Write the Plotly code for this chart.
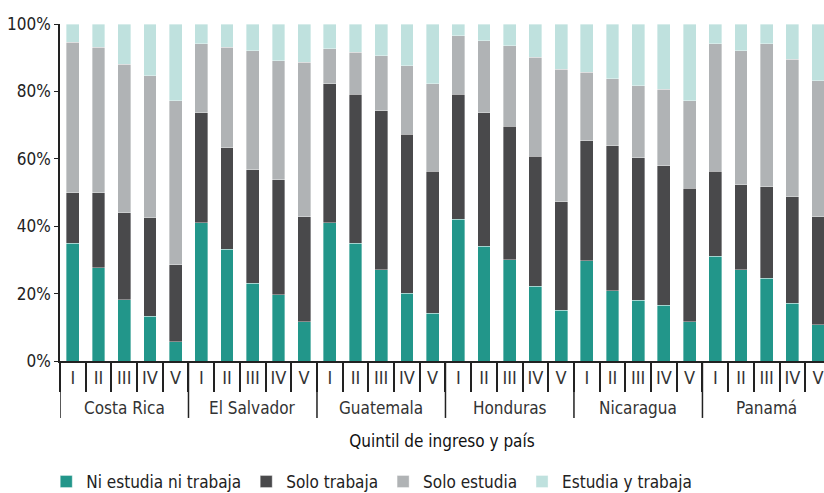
import plotly.graph_objects as go

paises = ["Costa Rica", "El Salvador", "Guatemala", "Honduras", "Nicaragua", "Panamá"]
quintiles = ["I", "II", "III", "IV", "V"]

# porcentaje por quintil (I..V) para cada país
ni_estudia_ni_trabaja = [
    35.0, 27.6, 18.2, 13.3, 5.7,
    41.0, 33.1, 23.0, 19.6, 11.7,
    41.0, 35.0, 27.1, 20.1, 14.1,
    42.0, 34.0, 30.1, 22.2, 15.1,
    29.7, 20.8, 18.1, 16.6, 11.7,
    31.1, 27.1, 24.5, 17.1, 10.7,
]
solo_trabaja = [
    14.9, 22.3, 25.8, 29.2, 22.8,
    32.7, 30.2, 33.8, 34.2, 31.1,
    41.2, 44.2, 47.2, 47.2, 42.2,
    37.2, 39.7, 39.6, 38.6, 32.2,
    35.6, 43.0, 42.2, 41.3, 39.6,
    25.2, 25.2, 27.2, 31.7, 32.1,
]
solo_estudia = [
    44.7, 43.2, 44.1, 42.2, 48.8,
    20.5, 29.8, 35.3, 35.3, 45.8,
    10.5, 12.4, 16.3, 20.3, 25.9,
    17.3, 21.4, 23.9, 29.3, 39.3,
    20.4, 19.9, 21.4, 22.8, 26.0,
    37.9, 39.8, 42.5, 40.8, 40.4,
]
estudia_y_trabaja = [
    5.4, 6.9, 11.9, 15.3, 22.7,
    5.8, 6.9, 7.9, 10.9, 11.4,
    7.3, 8.4, 9.4, 12.4, 17.8,
    3.5, 4.9, 6.4, 9.9, 13.4,
    14.3, 16.3, 18.3, 19.3, 22.7,
    5.8, 7.9, 5.8, 10.4, 16.8,
]
y_ticks = [0, 20, 40, 60, 80, 100]
y_labels = ["0%", "20%", "40%", "60%", "80%", "100%"]

# one category per (país, quintil); the axis shows only the quintil
x = [p + " " + q for p in paises for q in quintiles]
x_text = [q for p in paises for q in quintiles]

font = "DejaVu Sans Condensed, sans-serif"

series = [
    ("Ni estudia ni trabaja", ni_estudia_ni_trabaja, "#22968a"),
    ("Solo trabaja", solo_trabaja, "#49494b"),
    ("Solo estudia", solo_estudia, "#b0b3b5"),
    ("Estudia y trabaja", estudia_y_trabaja, "#bfe1de"),
]

fig = go.Figure()
for name, vals, color in series:
    fig.add_trace(go.Bar(x=x, y=vals, name=name,
                         marker=dict(color=color, line=dict(width=0.6, color="rgba(255,255,255,0.6)"))))

n = len(quintiles)
for i, p in enumerate(paises):
    # country name under its group, divider line at the left of each group
    fig.add_annotation(x=p + " " + quintiles[n // 2], y=-0.139, xref="x", yref="paper",
                       text=p, showarrow=False, yanchor="middle",
                       font=dict(size=17, color="#333333"))
    fig.add_shape(type="line", xref="x", yref="paper", x0=i * n - 0.5, x1=i * n - 0.5,
                  y0=0, y1=-0.169, line=dict(color="#222222", width=1.5))

fig.update_layout(
    width=824, height=493,
    barmode="stack", bargap=0.5,
    plot_bgcolor="white", paper_bgcolor="white",
    margin=dict(l=60, r=0, t=24, b=132, autoexpand=False),
    font=dict(family=font, size=17, color="#222222"),
    legend=dict(orientation="h", x=-0.018, xanchor="left", y=-0.359, yanchor="middle",
                font=dict(size=17), traceorder="normal", itemwidth=30),
    showlegend=True,
)
fig.update_xaxes(
    type="category", range=[-0.5, 29.23], tickangle=0,
    tickvals=x, ticktext=x_text,
    showline=True, linecolor="#222222", linewidth=1.5,
    ticks="outside", tickson="boundaries", ticklen=29, tickcolor="#222222", tickwidth=1.5,
    tickfont=dict(size=18, color="#333333"), ticklabelstandoff=0,
    title=dict(text="Quintil de ingreso y país", font=dict(size=17, color="#111111"), standoff=48),
    showgrid=False,
)
fig.update_yaxes(
    range=[0, 100], tickvals=y_ticks, ticktext=y_labels, automargin=False,
    showline=True, linecolor="#222222", linewidth=1.5,
    ticks="outside", ticklen=4, tickcolor="#222222",
    tickfont=dict(size=17, color="#222222"),
    showgrid=False, zeroline=False,
)

fig.write_html("out.html", config={"displayModeBar": False},
               post_script="document.body.style.margin='0';document.body.style.overflow='hidden';")
